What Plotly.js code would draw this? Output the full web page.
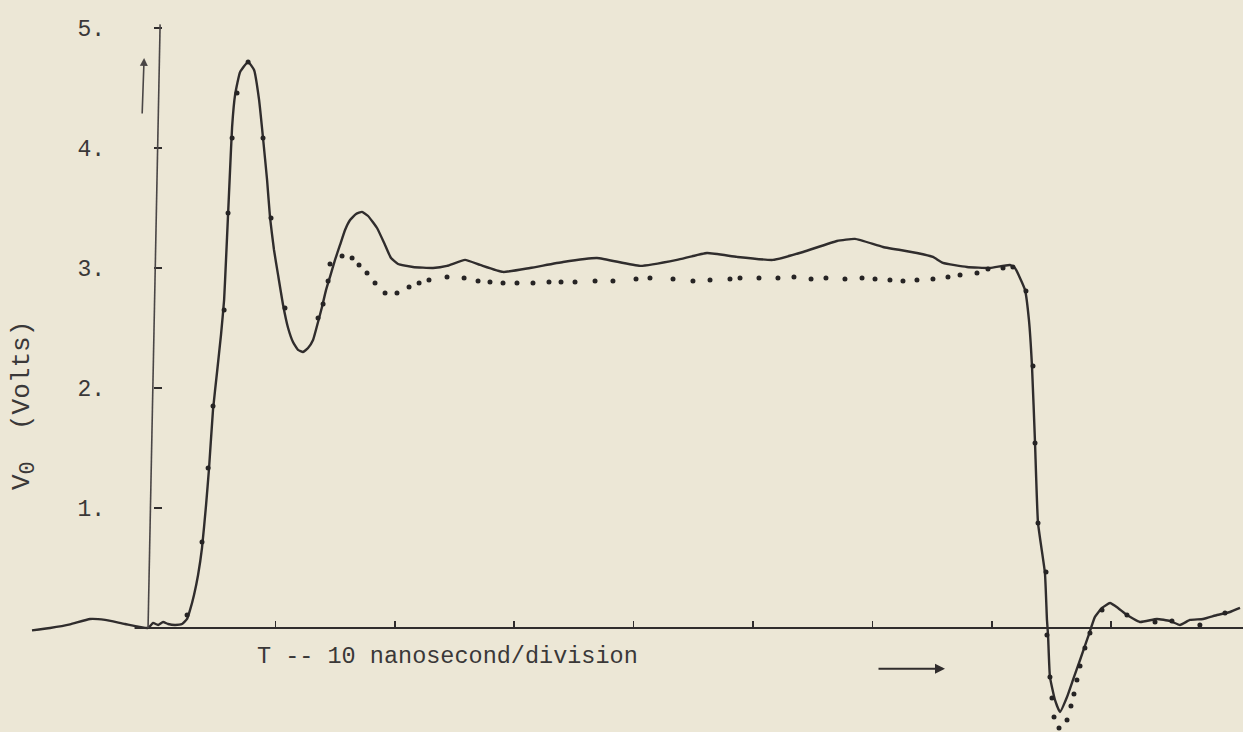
<!DOCTYPE html>
<html><head><meta charset="utf-8">
<script src="https://cdn.plot.ly/plotly-3.0.1.min.js"></script>
<style>html,body{margin:0;padding:0;background:#ece7d7;} #chart{width:1243px;height:732px;}</style>
</head><body><div id="chart"></div>
<script>
// Measured output pulse (solid curve): time in ns, voltage in volts
const measuredT = [-10.39,-8.88,-7.20,-5.53,-4.27,-2.60,-0.67,-0.25,0.17,0.59,1.01,1.59,2.18,2.60,2.85,3.18,3.52,3.85,4.19,4.44,4.77,5.11,5.44,5.70,5.86,6.03,6.20,6.37,6.62,7.04,7.71,8.21,8.63,8.96,9.30,9.55,9.88,10.22,10.64,11.06,11.47,11.89,12.31,12.73,13.15,13.57,13.90,14.24,14.57,14.99,15.41,15.83,16.25,16.75,17.25,17.76,18.51,19.18,19.68,20.27,21.52,23.20,24.37,25.88,27.14,29.06,31.32,34.09,36.93,40.54,43.63,46.15,48.66,51.67,54.19,57.03,58.54,60.89,63.73,65.07,65.91,67.92,69.85,71.52,71.94,72.36,72.78,73.11,73.37,73.62,73.87,74.45,74.62,74.71,74.87,75.29,75.71,76.30,76.80,77.39,78.06,78.64,79.23,79.90,80.57,81.32,82.41,83.83,84.92,85.76,86.60,87.69,88.86,89.95,90.79];
const measuredV = [-0.02,0.00,0.03,0.075,0.067,0.033,0.00,0.042,0.025,0.05,0.033,0.025,0.033,0.075,0.15,0.275,0.442,0.667,1.025,1.333,1.817,2.133,2.442,2.733,3.067,3.442,3.817,4.175,4.442,4.633,4.717,4.65,4.40,4.083,3.733,3.417,3.15,2.942,2.692,2.50,2.383,2.317,2.30,2.333,2.40,2.55,2.675,2.817,2.925,3.067,3.192,3.317,3.40,3.45,3.467,3.433,3.333,3.192,3.083,3.033,3.008,3.00,3.017,3.067,3.025,2.967,3.00,3.05,3.083,3.017,3.067,3.125,3.092,3.067,3.133,3.225,3.242,3.175,3.125,3.092,3.042,3.008,3.00,3.025,3.00,2.917,2.817,2.567,2.175,1.542,0.875,0.458,0.067,-0.058,-0.408,-0.60,-0.70,-0.575,-0.433,-0.267,-0.075,0.092,0.167,0.208,0.167,0.108,0.05,0.075,0.058,0.025,0.067,0.075,0.108,0.133,0.167];

// Calculated points (dots)
const computedT = [2.60,3.85,4.36,4.77,5.70,6.03,6.37,6.78,7.71,8.96,9.63,10.80,13.57,13.99,14.41,14.57,15.58,16.42,17.00,17.67,18.34,19.18,20.18,21.19,22.03,22.86,24.37,25.80,26.97,27.97,29.06,30.23,31.57,32.91,33.92,35.09,36.77,38.27,40.20,41.37,43.30,44.97,46.40,48.07,48.91,50.50,52.09,53.43,54.86,56.11,57.70,59.13,60.22,61.47,62.56,63.73,65.07,66.33,67.34,68.76,69.68,70.94,71.77,72.86,73.45,73.62,73.87,74.54,74.62,74.87,75.04,75.21,75.63,76.30,76.63,76.88,77.13,77.39,77.80,78.22,79.23,81.32,83.67,85.09,87.43,89.53];
const computedV = [0.108,0.717,1.333,1.85,2.65,3.458,4.083,4.458,4.717,4.083,3.417,2.667,2.583,2.70,2.892,3.033,3.10,3.083,3.025,2.958,2.875,2.792,2.792,2.842,2.875,2.90,2.925,2.917,2.892,2.883,2.875,2.875,2.875,2.883,2.883,2.883,2.892,2.892,2.908,2.917,2.908,2.892,2.90,2.908,2.917,2.917,2.917,2.925,2.908,2.917,2.908,2.917,2.908,2.90,2.892,2.90,2.908,2.925,2.942,2.958,2.992,3.00,3.008,2.808,2.183,1.542,0.875,0.467,-0.058,-0.408,-0.583,-0.742,-0.833,-0.767,-0.65,-0.55,-0.433,-0.317,-0.167,-0.042,0.15,0.108,0.05,0.058,0.025,0.125];

const yTickVals = [1,2,3,4,5];
const yTickText = ['1.','2.','3.','4.','5.'];
const xTickVals = [10,20,30,40,50,60,70,80];
const xTitle = 'T -- 10 nanosecond/division';
const yTitle = 'V<sub><span style="font-size:22px">0</span></sub>&nbsp; (Volts)';

const ink = '#302d2d';
const bg = '#ece7d6';
const mono = 'Liberation Mono, Courier New, monospace';
const textInk = '#3a3838';

const traces = [
  {x: measuredT, y: measuredV, type: 'scatter', mode: 'lines',
   line: {color: ink, width: 2.4, shape: 'spline', smoothing: 0.4}, hoverinfo: 'skip'},
  {x: computedT, y: computedV, type: 'scatter', mode: 'markers',
   marker: {color: '#262424', size: 5}, hoverinfo: 'skip'}
];

const layout = {
  width: 1243, height: 732,
  margin: {l: 0, r: 0, t: 0, b: 0},
  paper_bgcolor: bg, plot_bgcolor: bg,
  showlegend: false,
  xaxis: {range: [-13.07, 91.04], anchor: 'free', position: 0.1421,
    showgrid: false, zeroline: false, showline: false,
    ticks: 'inside', ticklen: 7, tickwidth: 1.5, tickcolor: ink,
    tickvals: xTickVals, showticklabels: false},
  yaxis: {range: [-0.867, 5.233], anchor: 'free', position: 0.1231,
    showgrid: false, zeroline: false, showline: false,
    ticks: 'inside', ticklen: 8, tickwidth: 1.5, tickcolor: ink,
    tickvals: yTickVals, ticktext: yTickText, ticklabelstandoff: 48,
    tickfont: {family: mono, size: 23, color: textInk}},
  shapes: [
    {type: 'line', xref: 'x', yref: 'y', x0: -1.8, y0: 0, x1: 91.1, y1: 0,
     line: {color: ink, width: 2}},
    {type: 'line', xref: 'x', yref: 'y', x0: -0.67, y0: 0, x1: 0.34, y1: 5.03,
     line: {color: '#4a4646', width: 1.6}}
  ],
  annotations: [
    {xref: 'paper', yref: 'paper', x: 0.3604, y: 0.1025, xanchor: 'center', yanchor: 'middle',
     text: xTitle, showarrow: false, font: {family: mono, size: 23.5, color: textInk}},
    {xref: 'paper', yref: 'paper', x: 0.0193, y: 0.4467, xanchor: 'center', yanchor: 'middle',
     text: yTitle, textangle: -90, showarrow: false, font: {family: mono, size: 26, color: textInk}},
    {xref: 'x', yref: 'y', x: 66.08, y: -0.34, ax: -68, ay: 0, text: '',
     showarrow: true, arrowhead: 2, arrowsize: 1, arrowwidth: 2, arrowcolor: ink},
    {xref: 'x', yref: 'y', x: -1.0, y: 4.75, ax: -2, ay: 57, text: '',
     showarrow: true, arrowhead: 2, arrowsize: 1, arrowwidth: 1.6, arrowcolor: '#4a4646'}
  ]
};

Plotly.newPlot('chart', traces, layout, {displayModeBar: false, staticPlot: true});
</script>
</body></html>
